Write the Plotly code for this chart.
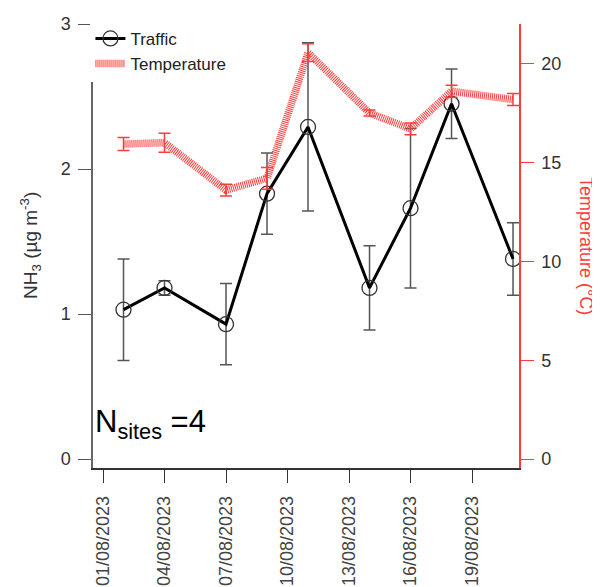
import plotly.graph_objects as go

dates = ['2023-08-02', '2023-08-04', '2023-08-07', '2023-08-09', '2023-08-11',
         '2023-08-14', '2023-08-16', '2023-08-18', '2023-08-21']
nh3 = [1.03, 1.18, 0.93, 1.83, 2.29, 1.18, 1.73, 2.45, 1.38]
nh3_err = [0.35, 0.05, 0.28, 0.28, 0.58, 0.29, 0.55, 0.24, 0.25]
temp = [15.93, 16.0, 13.6, 14.2, 20.55, 17.5, 16.7, 18.6, 18.18]
temp_err = [0.33, 0.48, 0.3, 0.55, 0.45, 0.15, 0.3, 0.3, 0.3]

FONT = "Liberation Sans, Arial, sans-serif"
RED = "#ff3b3b"

fig = go.Figure()
fig.add_trace(go.Scatter(
    x=dates, y=nh3, name="Traffic", mode="lines+markers",
    line=dict(color="black", width=3),
    marker=dict(symbol="circle-open", size=15, color="#333333", line=dict(width=1.3)),
    error_y=dict(type="data", array=nh3_err, color="#555555", thickness=1.5, width=6),
    yaxis="y",
))
fig.add_trace(go.Scatter(
    x=dates, y=temp, name="Temperature", mode="lines",
    line=dict(color=RED, width=7.5, dash="1px,1px"),
    error_y=dict(type="data", array=temp_err, color=RED, thickness=1.5, width=6),
    yaxis="y2",
))

fig.update_layout(
    width=592, height=579,
    margin=dict(l=85, r=81, t=16, b=119, autoexpand=False),
    paper_bgcolor="white", plot_bgcolor="white",
    font=dict(family=FONT, size=18, color="#333333"),
    showlegend=True,
    legend=dict(x=-0.006, y=1.007, xanchor="left", yanchor="top",
                bgcolor="white", font=dict(size=17, color="#222222"),
                tracegroupgap=0, itemwidth=30),
    xaxis=dict(
        type="date", automargin=False,
        range=["2023-07-31 12:17", "2023-08-21 07:00"],
        tick0="2023-08-01", dtick=3 * 86400000, tickformat="%d/%m/%Y",
        tickangle=-90, ticks="outside", ticklen=13, tickcolor="#333333",
        ticklabelstandoff=6,
        showline=True, linecolor="#333333", linewidth=1.5,
        showgrid=False, zeroline=False,
        tickfont=dict(size=18, color="#444444"),
    ),
    yaxis=dict(
        automargin=False,
        range=[-0.062, 3.0], tickvals=[0, 1, 2, 3],
        ticks="outside", ticklen=13, tickcolor="#555555",
        ticklabelstandoff=4,
        showline=True, linecolor="#666666", linewidth=1.5,
        showgrid=False, zeroline=False,
        tickfont=dict(size=18, color="#333333"),
    ),
    yaxis2=dict(
        automargin=False,
        range=[-0.45, 22.0], tickvals=[0, 5, 10, 15, 20],
        overlaying="y", side="right", anchor="x",
        ticks="outside", ticklen=13, tickcolor=RED,
        ticklabelstandoff=4,
        showline=True, linecolor=RED, linewidth=1.5,
        showgrid=False, zeroline=False,
        tickfont=dict(size=18, color="#333333"),
    ),
    annotations=[
        dict(text="NH<sub>3</sub> (µg m<sup>-3</sup>)", xref="paper", yref="paper",
             x=0, y=0.5, xshift=-63, xanchor="center", yanchor="middle",
             textangle=-90, showarrow=False, font=dict(size=19, color="#333333")),
        dict(text="Temperature (°C)", xref="paper", yref="paper",
             x=1, y=0.5, xshift=67, xanchor="center", yanchor="middle",
             textangle=90, showarrow=False, font=dict(size=18, color=RED)),
        dict(text="N<sub>sites</sub> =4", xref="paper", yref="paper",
             x=0, y=0, xshift=0, yshift=22, xanchor="left", yanchor="bottom",
             showarrow=False, font=dict(size=31, color="black")),
    ],
)

fig.write_html("out.html")
